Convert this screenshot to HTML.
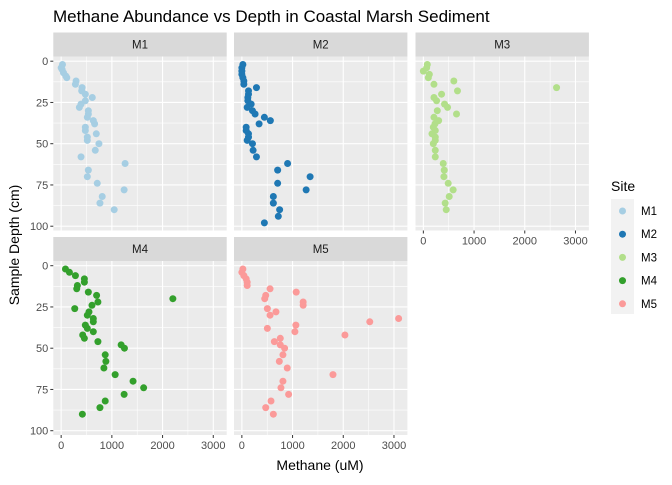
<!DOCTYPE html>
<html><head><meta charset="utf-8"><style>
body{margin:0;background:#fff}
svg text{font-family:"Liberation Sans",sans-serif}
</style></head><body>
<svg id="chart" width="672" height="480" xmlns="http://www.w3.org/2000/svg">
<rect width="672" height="480" fill="#fff"/>
<text x="53" y="22" font-size="17" fill="#000">Methane Abundance vs Depth in Coastal Marsh Sediment</text>
<text transform="translate(19,245) rotate(-90)" text-anchor="middle" font-size="14" fill="#000">Sample Depth (cm)</text>
<text x="320" y="470" text-anchor="middle" font-size="14" fill="#000">Methane (uM)</text>
<g id="panels"></g>
<g id="legend">
<text x="611" y="191" font-size="14" fill="#000">Site</text>
<rect x="611" y="199" width="23" height="115" fill="#f2f2f2"/>
</g>
</svg>
<script>
const sites = ["M1","M2","M3","M4","M5"];
const colors = ["#a6cee3","#1f78b4","#b2df8a","#33a02c","#fb9a99"];
const xTicks = [0,1000,2000,3000];
const yTicks = [0,25,50,75,100];
const m1Methane = [26,0,20,46,92,111,294,281,412,405,477,614,477,392,359,536,536,516,634,660,477,477,693,516,516,745,673,392,1261,536,516,712,1242,810,765,1046];
const m1Depth =   [2,4,5,7,9,10,12,14,16,18,20,22,24,26,28,30,32,34,36,38,40,42,44,46,48,50,54,58,62,66,70,74,78,82,86,90];
const m2Methane = [20,0,0,0,20,39,39,288,131,131,118,118,183,105,209,261,444,562,340,85,85,131,131,105,209,222,288,902,706,1346,706,1268,621,621,745,719,444];
const m2Depth =   [2,4,6,8,10,12,14,16,18,20,22,24,26,28,30,32,34,36,38,40,42,44,46,48,50,54,58,62,66,70,74,78,82,86,90,94,98];
const m3Methane = [78,65,0,118,98,601,209,2627,673,359,209,261,418,477,654,275,209,301,229,196,235,170,235,196,235,235,235,392,412,405,490,588,510,431,451];
const m3Depth =   [2,4,6,8,10,12,14,16,18,20,22,24,26,28,32,30,34,36,38,40,42,44,46,50,48,54,58,62,66,70,74,78,82,86,90];
const m4Methane = [85,163,281,458,458,320,307,536,699,2203,725,608,268,549,516,634,634,477,516,634,425,458,725,1183,1248,869,882,843,1065,1418,1627,1242,869,765,418];
const m4Depth =   [2,4,6,8,10,12,14,16,18,20,22,24,26,28,30,32,34,36,38,40,42,44,46,48,50,54,58,62,66,70,74,78,82,86,90];
const m5Methane = [20,0,39,85,105,105,556,1072,471,451,1209,1209,503,673,556,3092,2523,1065,503,1046,2033,758,641,758,843,810,739,895,1797,810,771,922,575,471,621];
const m5Depth =   [2,4,6,8,10,12,14,16,18,20,22,24,26,28,30,32,34,36,38,40,42,44,46,48,50,54,58,62,66,70,74,78,82,86,90];
const allX = [m1Methane,m2Methane,m3Methane,m4Methane,m5Methane];
const allY = [m1Depth,m2Depth,m3Depth,m4Depth,m5Depth];

const NS="http://www.w3.org/2000/svg";
function mk(tag, attrs, parent){const e=document.createElementNS(NS,tag);for(const k in attrs)e.setAttribute(k,attrs[k]);parent.appendChild(e);return e;}
const xDom=[-155,3265], yDom=[-2.85,102.6];
const PW=173.4, SH=24;
const panelX=[53.3,234,415.5], rowTop=[32.5,237];
const root=document.getElementById('panels');
sites.forEach((s,i)=>{
  const col=i%3,row=Math.floor(i/3);
  const x0=panelX[col], y0=rowTop[row]+SH, PH=174;
  const sx=v=>x0+(v-xDom[0])/(xDom[1]-xDom[0])*PW;
  const sy=v=>y0+(v-yDom[0])/(yDom[1]-yDom[0])*PH;
  const g=mk('g',{},root);
  
  
  const st=mk('rect',{x:x0,y:rowTop[row],width:PW,height:SH,fill:'#d9d9d9'},g);
  
  
  const stt=mk('text',{x:x0+PW/2,y:rowTop[row]+16,'text-anchor':'middle','font-size':11.5,fill:'#1a1a1a'},g);
  stt.textContent=s;
  
  
  mk('rect',{x:x0,y:y0,width:PW,height:PH,fill:'#ebebeb'},g);
  for(let v=500;v<=3000;v+=1000) mk('line',{x1:sx(v),x2:sx(v),y1:y0,y2:y0+PH,stroke:'#fff','stroke-width':0.55},g);
  for(let v=12.5;v<=100;v+=25) mk('line',{x1:x0,x2:x0+PW,y1:sy(v),y2:sy(v),stroke:'#fff','stroke-width':0.55},g);
  xTicks.forEach(v=>mk('line',{x1:sx(v),x2:sx(v),y1:y0,y2:y0+PH,stroke:'#fff','stroke-width':1.1},g));
  yTicks.forEach(v=>mk('line',{x1:x0,x2:x0+PW,y1:sy(v),y2:sy(v),stroke:'#fff','stroke-width':1.1},g));
  if(col===0){
    yTicks.forEach(v=>{
      mk('line',{x1:x0-3,x2:x0,y1:sy(v),y2:sy(v),stroke:'#333','stroke-width':1},g);
      const t=mk('text',{x:x0-5,y:sy(v)+4,'text-anchor':'end','font-size':11,fill:'#4d4d4d'},g);
      t.textContent=v;
      
      
    });
  }
  if(row===1||i===2){
    xTicks.forEach(v=>{
      mk('line',{x1:sx(v),x2:sx(v),y1:y0+PH,y2:y0+PH+3,stroke:'#333','stroke-width':1},g);
      const t=mk('text',{x:sx(v),y:y0+PH+14,'text-anchor':'middle','font-size':11,fill:'#4d4d4d'},g);
      t.textContent=v;
      
      
    });
  }
  allX[i].forEach((v,j)=>{
    const c=mk('circle',{cx:sx(v),cy:sy(allY[i][j]),r:3.5,fill:colors[i]},g);
    
    
  });
});
const lg=document.getElementById('legend');
sites.forEach((s,i)=>{
  const y=211+i*23.2;
  const c=mk('circle',{cx:622.5,cy:y,r:3.5,fill:colors[i]},lg);
  
  
  const t=mk('text',{x:641,y:y+4,'font-size':11.5,fill:'#000'},lg);
  t.textContent=s;
  
  
});
</script>
</body></html>
